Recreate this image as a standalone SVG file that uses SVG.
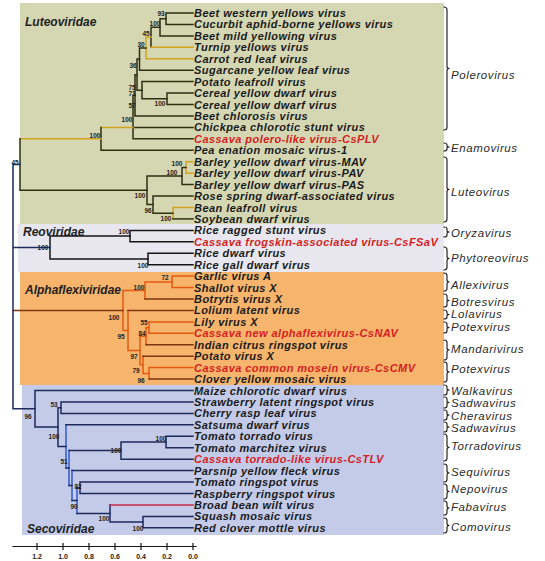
<svg xmlns="http://www.w3.org/2000/svg" width="545" height="561" viewBox="0 0 545 561">
<style>
.lf{font-family:"Liberation Sans",Arial,sans-serif;font-size:11px;letter-spacing:0.45px;font-weight:bold;font-style:italic;fill:#1a1a1a}
.red{fill:#d41e1e}
.fam{font-family:"Liberation Sans",Arial,sans-serif;font-size:12px;font-weight:bold;font-style:italic;fill:#1e1e1e}
.gen{font-family:"Liberation Sans",Arial,sans-serif;font-size:11.5px;letter-spacing:0.6px;font-style:italic;fill:#2a2a2a}
.bs{font-family:"Liberation Sans",Arial,sans-serif;font-size:6.5px;font-weight:bold;fill:#222;text-anchor:middle}
.sc{font-family:"Liberation Sans",Arial,sans-serif;font-size:7px;font-weight:bold;fill:#222;text-anchor:middle}
path{fill:none;stroke-width:1.5;stroke-linecap:square}
.k{stroke:#2e2f12}
.y{stroke:#d4a21c}
.d{stroke:#151515}
.o{stroke:#e65a10}
.w{stroke:#7e3612}
.n{stroke:#1d2a5e}
.b{stroke:#2f5bd0}
.r{stroke:#c02a4a}
.br{stroke:#262626;stroke-width:1.2}
</style>
<rect width="545" height="561" fill="#ffffff"/>
<g id="backgrounds">
<rect x="20" y="3" width="424" height="221" fill="#d5d7b3"/>
<rect x="18" y="224" width="426" height="48" fill="#e8e7ef"/>
<rect x="20" y="272" width="424" height="113" fill="#f6b46c"/>
<rect x="22" y="385" width="422" height="150" fill="#c3cbe9"/>
</g>
<g id="families">
<text class="fam" x="25" y="26">Luteoviridae</text>
<text class="fam" x="23" y="236">Reoviridae</text>
<text class="fam" x="25" y="294">Alphaflexiviridae</text>
<text class="fam" x="27" y="533">Secoviridae</text>
</g>
<g id="connectors">
<path class="k" d="M166,13V24.4M166,13H193M166,24.4H193"/>
<path class="k" d="M160,18.7V35.9M160,18.7H166M160,35.9H193"/>
<path class="k" d="M151,27.3V47.3M151,27.3H160"/>
<path class="y" d="M151,47.3H193"/>
<path class="y" d="M146,37.3V58.8M146,37.3H151M146,58.8H193"/>
<path class="k" d="M139.5,48V70.2M139.5,48H146M139.5,70.2H193"/>
<path class="k" d="M167,93.1V104.5M167,93.1H193M167,104.5H193"/>
<path class="k" d="M142,81.6V98.8M142,81.6H193M142,98.8H167"/>
<path class="k" d="M137,59.1V90.2M137,59.1H139.5M137,90.2H142"/>
<path class="k" d="M135,74.7V116M135,74.7H137M135,116H193"/>
<path class="k" d="M133,95.3V138.8M133,95.3H135M133,127.4H193M133,138.8H193"/>
<path class="y" d="M101,127.4H133"/>
<path class="k" d="M101,127.4V150.3M101,150.3H193"/>
<path class="y" d="M186,161.7V173.2M186,161.7H193M186,173.2H193"/>
<path class="k" d="M182,167.4V184.6M182,167.4H186M182,184.6H193"/>
<path class="y" d="M173,207.5V218.9M173,207.5H193"/>
<path class="k" d="M173,218.9H193"/>
<path class="k" d="M153,196V213.2M153,196H193M153,213.2H173"/>
<path class="k" d="M147,176V204.6M147,176H182M147,204.6H153"/>
<path class="y" d="M20,138.8H101"/>
<path class="k" d="M20,138.8V190.3M20,190.3H147"/>
<path class="d" d="M130,230.4V241.8M130,230.4H193M130,241.8H193"/>
<path class="d" d="M148,253.2V264.7M148,253.2H193M148,264.7H193"/>
<path class="d" d="M50,236.1V259M50,236.1H130M50,259H148"/>
<path class="o" d="M172,276.1V287.6M172,276.1H193M172,287.6H193"/>
<path class="o" d="M145,281.9V299M145,281.9H172"/>
<path class="w" d="M145,299H193"/>
<path class="o" d="M149,321.9V333.3M149,321.9H193M149,333.3H193"/>
<path class="o" d="M146,327.6V344.8M146,327.6H149"/>
<path class="w" d="M146,344.8H193"/>
<path class="o" d="M149,367.6V379.1M149,367.6H193"/>
<path class="w" d="M149,379.1H193"/>
<path class="o" d="M143,356.2V373.4M143,373.4H149"/>
<path class="w" d="M143,356.2H193"/>
<path class="o" d="M140,336.2V364.8M140,336.2H146M140,364.8H143"/>
<path class="o" d="M128,310.4V350.5M128,350.5H140"/>
<path class="w" d="M128,310.4H193"/>
<path class="o" d="M123,290.4V330.5M123,290.4H145M123,330.5H128"/>
<path class="w" d="M13,310.4H123"/>
<path class="n" d="M143,516.4V527.8M143,516.4H193M143,527.8H193"/>
<path class="n" d="M110,504.9V522.1M110,522.1H143"/>
<path class="r" d="M110,504.9H193"/>
<path class="n" d="M80,482V493.5M80,482H193M80,493.5H193"/>
<path class="b" d="M77,487.8V513.5"/>
<path class="n" d="M77,487.8H80M77,513.5H110"/>
<path class="b" d="M72,470.6V500.6"/>
<path class="n" d="M72,470.6H193M72,500.6H77"/>
<path class="n" d="M166,436.3V447.7M166,436.3H193M166,447.7H193"/>
<path class="n" d="M121,442V459.2M121,442H166M121,459.2H193"/>
<path class="b" d="M69,450.6V485.6"/>
<path class="n" d="M69,450.6H121M69,485.6H72"/>
<path class="b" d="M66,424.8V468.1"/>
<path class="n" d="M66,424.8H193M66,468.1H69"/>
<path class="n" d="M61,402V413.4M61,402H193M61,413.4H193"/>
<path class="n" d="M58,407.7V446.5M58,407.7H61M58,446.5H66"/>
<path class="n" d="M35,390.5V427.1M35,390.5H193M35,427.1H58"/>
<path class="n" d="M13,164.5V408.8M13,164.5H20M13,247.5H50M13,408.8H35"/>
</g>
<g id="support">
<text class="bs" x="161" y="16">93</text>
<text class="bs" x="155" y="26">100</text>
<text class="bs" x="146" y="36">45</text>
<text class="bs" x="141" y="47">30</text>
<text class="bs" x="133" y="68">36</text>
<text class="bs" x="132" y="90">75</text>
<text class="bs" x="132" y="96">71</text>
<text class="bs" x="132" y="108">57</text>
<text class="bs" x="160" y="106">100</text>
<text class="bs" x="127" y="122">100</text>
<text class="bs" x="95" y="138">100</text>
<text class="bs" x="177" y="166">100</text>
<text class="bs" x="172" y="175">100</text>
<text class="bs" x="140" y="198">100</text>
<text class="bs" x="148" y="213">96</text>
<text class="bs" x="166" y="221">100</text>
<text class="bs" x="15" y="165">45</text>
<text class="bs" x="124" y="234">100</text>
<text class="bs" x="43" y="250">100</text>
<text class="bs" x="143" y="268">100</text>
<text class="bs" x="165" y="280">72</text>
<text class="bs" x="139" y="290">100</text>
<text class="bs" x="114" y="320">100</text>
<text class="bs" x="121" y="339">95</text>
<text class="bs" x="144" y="325">55</text>
<text class="bs" x="142" y="336">84</text>
<text class="bs" x="134" y="359">97</text>
<text class="bs" x="136" y="373">79</text>
<text class="bs" x="141" y="383">96</text>
<text class="bs" x="28" y="419">96</text>
<text class="bs" x="54" y="407">53</text>
<text class="bs" x="54" y="439">100</text>
<text class="bs" x="64" y="464">51</text>
<text class="bs" x="116" y="453">100</text>
<text class="bs" x="161" y="441">100</text>
<text class="bs" x="78" y="489">82</text>
<text class="bs" x="74" y="509">90</text>
<text class="bs" x="104" y="521">100</text>
<text class="bs" x="138" y="531">100</text>
</g>
<g id="leaves">
<g id="n1"><text class="lf" x="194" y="17">Beet western yellows virus</text></g>
<g id="n2"><text class="lf" x="194" y="28.4">Cucurbit aphid-borne yellows virus</text></g>
<g id="n3"><text class="lf" x="194" y="39.9">Beet mild yellowing virus</text></g>
<g id="n4"><text class="lf" x="194" y="51.3">Turnip yellows virus</text></g>
<g id="n5"><text class="lf" x="194" y="62.8">Carrot red leaf virus</text></g>
<g id="n6"><text class="lf" x="194" y="74.2">Sugarcane yellow leaf virus</text></g>
<g id="n7"><text class="lf" x="194" y="85.6">Potato leafroll virus</text></g>
<g id="n8"><text class="lf" x="194" y="97.1">Cereal yellow dwarf virus</text></g>
<g id="n9"><text class="lf" x="194" y="108.5">Cereal yellow dwarf virus</text></g>
<g id="n10"><text class="lf" x="194" y="120">Beet chlorosis virus</text></g>
<g id="n11"><text class="lf" x="194" y="131.4">Chickpea chlorotic stunt virus</text></g>
<g id="n12"><text class="lf red" x="194" y="142.8">Cassava polero-like virus-CsPLV</text></g>
<g id="n13"><text class="lf" x="194" y="154.3">Pea enation mosaic virus-1</text></g>
<g id="n14"><text class="lf" x="194" y="165.7">Barley yellow dwarf virus-MAV</text></g>
<g id="n15"><text class="lf" x="194" y="177.2">Barley yellow dwarf virus-PAV</text></g>
<g id="n16"><text class="lf" x="194" y="188.6">Barley yellow dwarf virus-PAS</text></g>
<g id="n17"><text class="lf" x="194" y="200">Rose spring dwarf-associated virus</text></g>
<g id="n18"><text class="lf" x="194" y="211.5">Bean leafroll virus</text></g>
<g id="n19"><text class="lf" x="194" y="222.9">Soybean dwarf virus</text></g>
<g id="n20"><text class="lf" x="194" y="234.4">Rice ragged stunt virus</text></g>
<g id="n21"><text class="lf red" x="194" y="245.8">Cassava frogskin-associated virus-CsFSaV</text></g>
<g id="n22"><text class="lf" x="194" y="257.2">Rice dwarf virus</text></g>
<g id="n23"><text class="lf" x="194" y="268.7">Rice gall dwarf virus</text></g>
<g id="n24"><text class="lf" x="194" y="280.1">Garlic virus A</text></g>
<g id="n25"><text class="lf" x="194" y="291.6">Shallot virus X</text></g>
<g id="n26"><text class="lf" x="194" y="303">Botrytis virus X</text></g>
<g id="n27"><text class="lf" x="194" y="314.4">Lolium latent virus</text></g>
<g id="n28"><text class="lf" x="194" y="325.9">Lily virus X</text></g>
<g id="n29"><text class="lf red" x="194" y="337.3">Cassava new alphaflexivirus-CsNAV</text></g>
<g id="n30"><text class="lf" x="194" y="348.8">Indian citrus ringspot virus</text></g>
<g id="n31"><text class="lf" x="194" y="360.2">Potato virus X</text></g>
<g id="n32"><text class="lf red" x="194" y="371.6">Cassava common mosein virus-CsCMV</text></g>
<g id="n33"><text class="lf" x="194" y="383.1">Clover yellow mosaic virus</text></g>
<g id="n34"><text class="lf" x="194" y="394.5">Maize chlorotic dwarf virus</text></g>
<g id="n35"><text class="lf" x="194" y="406">Strawberry latent ringspot virus</text></g>
<g id="n36"><text class="lf" x="194" y="417.4">Cherry rasp leaf virus</text></g>
<g id="n37"><text class="lf" x="194" y="428.8">Satsuma dwarf virus</text></g>
<g id="n38"><text class="lf" x="194" y="440.3">Tomato torrado virus</text></g>
<g id="n39"><text class="lf" x="194" y="451.7">Tomato marchitez virus</text></g>
<g id="n40"><text class="lf red" x="194" y="463.2">Cassava torrado-like virus-CsTLV</text></g>
<g id="n41"><text class="lf" x="194" y="474.6">Parsnip yellow fleck virus</text></g>
<g id="n42"><text class="lf" x="194" y="486">Tomato ringspot virus</text></g>
<g id="n43"><text class="lf" x="194" y="497.5">Raspberry ringspot virus</text></g>
<g id="n44"><text class="lf" x="194" y="508.9">Broad bean wilt virus</text></g>
<g id="n45"><text class="lf" x="194" y="520.4">Squash mosaic virus</text></g>
<g id="n46"><text class="lf" x="194" y="531.8">Red clover mottle virus</text></g>
</g>
<g id="genera">
<path class="br" d="M444,7Q447,7 447,10V66.5Q447,68.5 449.5,68.5Q447,68.5 447,70.5V127Q447,130 444,130"/>
<text class="gen" x="451" y="79">Polerovirus</text>
<path class="br" d="M444,143Q447,143 447,145V146Q447,147 449.5,147Q447,147 447,148V149Q447,151 444,151"/>
<text class="gen" x="451" y="152">Enamovirus</text>
<path class="br" d="M444,157Q447,157 447,160V187.5Q447,189.5 449.5,189.5Q447,189.5 447,191.5V219Q447,222 444,222"/>
<text class="gen" x="451" y="196">Luteovirus</text>
<path class="br" d="M444,227Q447,227 447,229V231Q447,232 449.5,232Q447,232 447,233V235Q447,237 444,237"/>
<text class="gen" x="451" y="237">Oryzavirus</text>
<path class="br" d="M444,247Q447,247 447,250V256.5Q447,258.5 449.5,258.5Q447,258.5 447,260.5V267Q447,270 444,270"/>
<text class="gen" x="451" y="262">Phytoreovirus</text>
<path class="br" d="M444,273Q447,273 447,275.5V280Q447,282 449.5,282Q447,282 447,284V288.5Q447,291 444,291"/>
<text class="gen" x="451" y="289">Allexivirus</text>
<path class="br" d="M444,294Q447,294 447,296V299.5Q447,300.5 449.5,300.5Q447,300.5 447,301.5V305Q447,307 444,307"/>
<text class="gen" x="451" y="306">Botresvirus</text>
<path class="br" d="M444,310Q447,310 447,312V313.5Q447,314.5 449.5,314.5Q447,314.5 447,315.5V317Q447,319 444,319"/>
<text class="gen" x="451" y="318">Lolavirus</text>
<path class="br" d="M444,322Q447,322 447,324V326.5Q447,327.5 449.5,327.5Q447,327.5 447,328.5V331Q447,333 444,333"/>
<text class="gen" x="451" y="331">Potexvirus</text>
<path class="br" d="M444,340Q447,340 447,342.5V348Q447,350 449.5,350Q447,350 447,352V357.5Q447,360 444,360"/>
<text class="gen" x="451" y="353">Mandarivirus</text>
<path class="br" d="M444,362Q447,362 447,364.5V370Q447,372 449.5,372Q447,372 447,374V379.5Q447,382 444,382"/>
<text class="gen" x="451" y="373">Potexvirus</text>
<path class="br" d="M444,385Q447,385 447,387V389Q447,390 449.5,390Q447,390 447,391V393Q447,395 444,395"/>
<text class="gen" x="451" y="395">Walkavirus</text>
<path class="br" d="M444,397Q447,397 447,399V401.5Q447,402.5 449.5,402.5Q447,402.5 447,403.5V406Q447,408 444,408"/>
<text class="gen" x="451" y="407">Sadwavirus</text>
<path class="br" d="M444,410Q447,410 447,412V414Q447,415 449.5,415Q447,415 447,416V418Q447,420 444,420"/>
<text class="gen" x="451" y="420">Cheravirus</text>
<path class="br" d="M444,422Q447,422 447,424V426Q447,427 449.5,427Q447,427 447,428V430Q447,432 444,432"/>
<text class="gen" x="451" y="432">Sadwavirus</text>
<path class="br" d="M444,434Q447,434 447,437V445.5Q447,447.5 449.5,447.5Q447,447.5 447,449.5V458Q447,461 444,461"/>
<text class="gen" x="451" y="450">Torradovirus</text>
<path class="br" d="M444,464Q447,464 447,466.5V471Q447,473 449.5,473Q447,473 447,475V479.5Q447,482 444,482"/>
<text class="gen" x="451" y="476">Sequivirus</text>
<path class="br" d="M444,484Q447,484 447,486.5V489.5Q447,491.5 449.5,491.5Q447,491.5 447,493.5V496.5Q447,499 444,499"/>
<text class="gen" x="451" y="493">Nepovirus</text>
<path class="br" d="M444,501Q447,501 447,503.5V506Q447,508 449.5,508Q447,508 447,510V512.5Q447,515 444,515"/>
<text class="gen" x="451" y="511">Fabavirus</text>
<path class="br" d="M444,518Q447,518 447,520.5V523.5Q447,525.5 449.5,525.5Q447,525.5 447,527.5V530.5Q447,533 444,533"/>
<text class="gen" x="451" y="531">Comovirus</text>
</g>
<g id="scale">
<path class="d" d="M13,546.5H196M37,543.5V549.5M63,543.5V549.5M89,543.5V549.5M115,543.5V549.5M141,543.5V549.5M167,543.5V549.5M193,543.5V549.5" style="stroke-width:1.2"/>
<text class="sc" x="37" y="559">1.2</text>
<text class="sc" x="63" y="559">1.0</text>
<text class="sc" x="89" y="559">0.8</text>
<text class="sc" x="115" y="559">0.6</text>
<text class="sc" x="141" y="559">0.4</text>
<text class="sc" x="167" y="559">0.2</text>
<text class="sc" x="193" y="559">0.0</text>
</g>
</svg>
